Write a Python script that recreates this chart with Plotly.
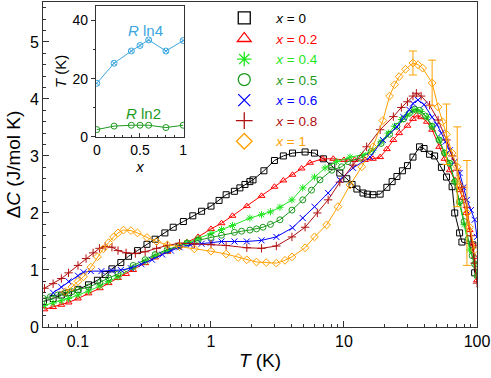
import plotly.graph_objects as go

# ---- main panel data: temperature (K) and Delta C (J/mol K) per composition x
T_X0 = [0.055, 0.065, 0.075, 0.085, 0.1, 0.12, 0.14, 0.16, 0.18, 0.21, 0.24, 0.28, 0.33, 0.38, 0.45,
        0.52, 0.62, 0.73, 0.85, 1.0, 1.15, 1.3, 1.5, 1.65, 1.8, 1.96, 2.07, 2.5, 3.0, 3.5, 4.1, 5.1,
        6.0, 7.0, 8.1, 9.3, 10.5, 11.5, 12.5, 13.9, 15, 16.5, 18.7, 21, 23, 25, 27.5, 30, 33, 37,
        40, 44, 48, 54, 59, 65, 68, 74, 77, 93, 96]
C_X0 = [0.45, 0.5, 0.56, 0.6, 0.66, 0.74, 0.82, 0.92, 1.02, 1.13, 1.24, 1.34, 1.45, 1.54, 1.65,
        1.75, 1.85, 1.95, 2.03, 2.12, 2.22, 2.32, 2.38, 2.44, 2.5, 2.55, 2.58, 2.74, 2.92, 3.0, 3.05, 3.07,
        3.05, 2.95, 2.82, 2.7, 2.6, 2.5, 2.42, 2.35, 2.33, 2.32, 2.33, 2.45, 2.55, 2.64, 2.74, 2.83, 2.98, 3.16,
        3.13, 3.03, 3.0, 2.8, 2.63, 2.46, 2.0, 1.65, 1.49, 1.44, 0.95]

T_X02 = [0.056, 0.065, 0.075, 0.085, 0.1, 0.12, 0.146, 0.17, 0.2, 0.23, 0.26, 0.32, 0.38, 0.47, 0.57,
         0.66, 0.8, 1.0, 1.2, 1.45, 1.86, 2.4, 3.0, 3.5, 4.1, 4.8, 5.55, 6.9, 8.3, 10, 12, 14.4, 16.5,
         18.7, 21, 23.5, 26, 30, 33, 35, 38, 42, 46, 52, 57, 62.5, 68, 74, 78, 83, 88, 93, 96, 100]
C_X02 = [0.31, 0.35, 0.39, 0.43, 0.5, 0.59, 0.68, 0.77, 0.86, 0.93, 1.0, 1.12, 1.22, 1.32, 1.41,
         1.49, 1.58, 1.72, 1.82, 1.95, 2.12, 2.3, 2.46, 2.57, 2.67, 2.78, 2.88, 2.95, 2.95, 2.93, 2.93, 2.93, 2.95,
         2.98, 3.12, 3.28, 3.4, 3.53, 3.65, 3.71, 3.68, 3.6, 3.46, 3.16, 2.95, 2.75, 2.58, 2.4, 2.26, 2.0, 1.7,
         1.45, 1.23, 0.82]

T_X04 = [0.056, 0.065, 0.075, 0.085, 0.1, 0.12, 0.146, 0.17, 0.2, 0.26, 0.32, 0.38, 0.47, 0.57, 0.66,
         0.8, 1.0, 1.2, 1.45, 1.96, 2.4, 2.8, 3.3, 4.06, 4.9, 6.0, 7.2, 8.8, 11.1, 13.9, 16.5, 19, 21.5,
         24, 27, 30, 33, 35, 38, 42, 46, 52, 57, 62.5, 68, 74, 80, 88, 96, 100]
C_X04 = [0.38, 0.42, 0.46, 0.5, 0.56, 0.63, 0.72, 0.8, 0.88, 1.04, 1.15, 1.25, 1.34, 1.42, 1.48,
         1.55, 1.64, 1.71, 1.78, 1.91, 1.97, 2.02, 2.1, 2.23, 2.44, 2.63, 2.79, 2.9, 2.98, 3.02, 3.1, 3.25, 3.4,
         3.52, 3.64, 3.72, 3.79, 3.81, 3.78, 3.68, 3.52, 3.28, 3.05, 2.87, 2.55, 2.17, 1.8, 1.35, 1.12, 0.9]

T_X05 = [0.055, 0.062, 0.07, 0.08, 0.09, 0.1, 0.12, 0.146, 0.17, 0.2, 0.26, 0.32, 0.38, 0.47, 0.57,
         0.66, 0.8, 1.0, 1.2, 1.5, 1.7, 1.96, 2.2, 2.46, 2.8, 3.3, 4.06, 4.9, 5.7, 6.6, 8.1, 9.6, 10.7,
         13.2, 16, 19, 22, 25, 28, 31, 34, 37, 41, 46, 52, 57, 62.5, 68, 74, 80, 86, 92, 96, 100]
C_X05 = [0.5, 0.53, 0.56, 0.59, 0.62, 0.65, 0.7, 0.78, 0.86, 0.93, 1.08, 1.18, 1.27, 1.36, 1.42,
         1.47, 1.52, 1.57, 1.61, 1.66, 1.68, 1.7, 1.72, 1.75, 1.8, 1.88, 2.05, 2.23, 2.4, 2.58, 2.75, 2.81, 2.9,
         2.96, 3.08, 3.22, 3.38, 3.52, 3.65, 3.75, 3.82, 3.8, 3.7, 3.52, 3.28, 3.05, 2.87, 2.55, 2.2, 1.85,
         1.55, 1.25, 1.1, 0.9]

T_X06 = [0.065, 0.075, 0.085, 0.1, 0.11, 0.125, 0.15, 0.18, 0.21, 0.25, 0.3, 0.36, 0.43, 0.5, 0.58,
         0.7, 0.85, 1.0, 1.2, 1.5, 1.86, 2.4, 3.1, 4.1, 4.9, 6.0, 7.6, 9.3, 11.7, 15.7, 19.6, 25, 28,
         31, 33, 36, 40, 46, 50, 54, 58, 62.5, 68, 74, 79, 84, 90, 96, 100]
C_X06 = [0.6, 0.7, 0.8, 0.9, 0.96, 0.98, 0.98, 0.99, 1.0, 1.03, 1.1, 1.18, 1.27, 1.34, 1.4,
         1.44, 1.46, 1.48, 1.5, 1.5, 1.5, 1.52, 1.58, 1.74, 1.91, 2.11, 2.35, 2.58, 2.79, 2.98, 3.28, 3.51, 3.68,
         3.81, 3.92, 3.98, 3.9, 3.68, 3.55, 3.4, 3.25, 3.1, 2.9, 2.7, 2.45, 2.23, 2.05, 1.88, 1.58]

T_X08 = [0.056, 0.065, 0.075, 0.085, 0.1, 0.115, 0.13, 0.145, 0.16, 0.18, 0.2, 0.23, 0.27, 0.32, 0.39,
         0.47, 0.58, 0.75, 1.0, 1.3, 1.86, 2.4, 3.1, 4.06, 5.1, 6.3, 7.6, 9.3, 11.7, 14.8, 18.7, 23.5, 27,
         30, 33, 35, 38, 44, 51, 59, 65, 71, 77, 84, 90, 96, 100]
C_X08 = [0.68, 0.76, 0.85, 0.95, 1.08, 1.2, 1.3, 1.38, 1.41, 1.4, 1.34, 1.3, 1.29, 1.32, 1.38,
         1.43, 1.47, 1.46, 1.45, 1.43, 1.39, 1.38, 1.42, 1.58, 1.75, 2.0, 2.23, 2.54, 2.84, 3.16, 3.46, 3.69, 3.85,
         3.95, 4.05, 4.1, 4.05, 3.89, 3.63, 3.28, 3.0, 2.75, 2.45, 2.1, 1.6, 1.12, 0.77]

T_X1 = [0.08, 0.09, 0.1, 0.11, 0.125, 0.14, 0.155, 0.17, 0.185, 0.2, 0.22, 0.25, 0.28, 0.33, 0.39,
        0.47, 0.58, 0.75, 1.0, 1.3, 1.6, 1.86, 2.2, 2.6, 3.1, 3.6, 4.06, 5.1, 6.0, 7.4, 9.0, 11.1, 13.6,
        16.5, 19.6, 22, 24, 26, 29, 33, 36, 39, 46, 51, 55, 59, 65, 71, 74, 84, 88, 96]
C_X1 = [0.62, 0.7, 0.8, 0.88, 1.05, 1.23, 1.37, 1.48, 1.58, 1.65, 1.7, 1.69, 1.65, 1.57, 1.5,
        1.44, 1.41, 1.37, 1.33, 1.28, 1.22, 1.18, 1.14, 1.13, 1.12, 1.17, 1.23, 1.39, 1.58, 1.79, 2.11, 2.49, 2.81,
        3.16, 3.62, 4.05, 4.25, 4.39, 4.52, 4.63, 4.6, 4.54, 4.28, 3.86, 3.6, 3.38, 3.05, 2.81, 2.46, 2.0, 1.75, 1.35]
# error bars only on some x = 1 points (None = no bar)
ERR_X1 = [None] * 39 + [0.21, None, None, 0.4, None, None, 0.53, None, 0.7, None, 0.92, None, None]

# ---- inset data: entropy temperatures vs x
X_INSET = [0, 0.2, 0.4, 0.5, 0.6, 0.8, 1]
T_RLN4 = [18.4, 25.3, 29.5, 31.4, 33.3, 29.5, 33.1]
T_RLN2 = [2.5, 3.7, 4.0, 4.0, 4.0, 3.2, 4.0]

FONT = "Liberation Sans, Arial, sans-serif"

series = [
    ("0", T_X0, C_X0, "#000000", "square-open"),
    ("0.2", T_X02, C_X02, "#ff0000", "triangle-up-open"),
    ("0.4", T_X04, C_X04, "#1fe61f", "asterisk-open"),
    ("0.5", T_X05, C_X05, "#1e9a1e", "circle-open"),
    ("0.6", T_X06, C_X06, "#0000ff", "x-thin-open"),
    ("0.8", T_X08, C_X08, "#b01010", "cross-thin-open"),
    ("1", T_X1, C_X1, "#ffa000", "diamond-open"),
]

fig = go.Figure()

for name, t, c, col, sym in series:
    fig.add_trace(go.Scatter(
        x=t, y=c, mode="lines+markers", showlegend=False,
        line=dict(color=col, width=1),
        marker=dict(symbol=sym, size=6, color=col, line=dict(color=col, width=1)),
    ))

# error bars for x = 1
idx = [i for i, e in enumerate(ERR_X1) if e is not None]
fig.add_trace(go.Scatter(
    x=[T_X1[i] for i in idx], y=[C_X1[i] for i in idx], mode="markers", showlegend=False,
    marker=dict(size=1, color="rgba(0,0,0,0)"),
    error_y=dict(type="data", array=[ERR_X1[i] for i in idx], color="#ffa000", thickness=1, width=4),
))

# legend entries (markers only)
for name, t, c, col, sym in series:
    fig.add_trace(go.Scatter(
        x=[None], y=[None], mode="markers",
        name=f"<span style='color:{col}'><i>x</i> = {name}</span>",
        marker=dict(symbol=sym, size=12, color=col, line=dict(color=col, width=1.3)),
    ))

# inset
fig.add_trace(go.Scatter(
    x=X_INSET, y=T_RLN4, xaxis="x2", yaxis="y2", mode="lines+markers", showlegend=False,
    line=dict(color="#3aa6dd", width=1),
    marker=dict(symbol="circle-x-open", size=6, color="#3aa6dd", line=dict(color="#3aa6dd", width=1)),
))
fig.add_trace(go.Scatter(
    x=X_INSET, y=T_RLN2, xaxis="x2", yaxis="y2", mode="lines+markers", showlegend=False,
    line=dict(color="#1e9a1e", width=1),
    marker=dict(symbol="circle-open", size=6, color="#1e9a1e", line=dict(color="#1e9a1e", width=1)),
))

fig.add_annotation(x=0.56, y=36.5, xref="x2", yref="y2", text="<i>R</i> ln4", showarrow=False,
                   font=dict(family=FONT, size=15, color="#3aa6dd"))
fig.add_annotation(x=0.54, y=8.2, xref="x2", yref="y2", text="<i>R</i> ln2", showarrow=False,
                   font=dict(family=FONT, size=15, color="#1e9a1e"))

axis_common = dict(showline=True, linecolor="#333", linewidth=1, mirror=True, showgrid=False,
                   zeroline=False, tickcolor="#333", automargin=False)

fig.update_layout(
    width=491, height=378,
    margin=dict(l=43, r=14, t=2, b=51),
    paper_bgcolor="white", plot_bgcolor="white",
    font=dict(family=FONT, size=16, color="black"),
    xaxis=dict(
        type="log", range=[-1.263, 2], tickvals=[0.1, 1, 10, 100], ticktext=["0.1", "1", "10", "100"],
        ticks="inside", ticklen=6,
        minor=dict(ticks="inside", ticklen=3, tickvals=[0.06, 0.07, 0.08, 0.09, 0.2, 0.3, 0.4, 0.5, 0.6, 0.7,
                                                        0.8, 0.9, 2, 3, 4, 5, 6, 7, 8, 9, 20, 30, 40, 50,
                                                        60, 70, 80, 90]),
        title=dict(text="<i>T</i> (K)", font=dict(size=19), standoff=4),
        tickfont=dict(size=16), **axis_common,
    ),
    yaxis=dict(
        range=[0, 5.7], dtick=1, ticks="inside", ticklen=6,
        minor=dict(ticks="inside", ticklen=3, dtick=0.2),
        title=dict(text="Δ<i>C</i> (J/mol K)", font=dict(size=19), standoff=4),
        tickfont=dict(size=16), **axis_common,
    ),
    xaxis2=dict(
        domain=[0.122, 0.325], anchor="y2", range=[-0.01, 1.01], tickvals=[0, 0.5, 1],
        ticks="inside", ticklen=4, minor=dict(ticks="inside", ticklen=2, dtick=0.1),
        title=dict(text="<i>x</i>", font=dict(size=15), standoff=2),
        tickfont=dict(size=14), **axis_common,
    ),
    yaxis2=dict(
        domain=[0.585, 0.988], anchor="x2", range=[0, 45], tickvals=[0, 20, 40],
        ticks="outside", ticklen=4, minor=dict(ticks="outside", ticklen=2, dtick=10),
        title=dict(text="<i>T</i> (K)", font=dict(size=15), standoff=2),
        tickfont=dict(size=14), **axis_common,
    ),
    legend=dict(
        x=0.39, y=0.998, xanchor="left", yanchor="top", bgcolor="rgba(0,0,0,0)",
        font=dict(family=FONT, size=13.5), itemwidth=54, tracegroupgap=0,
    ),
)

# the browser's default 8px body margin would shift the figure
fig.write_html("out.html", config={"displayModeBar": False},
               post_script="document.body.style.margin='0';")
